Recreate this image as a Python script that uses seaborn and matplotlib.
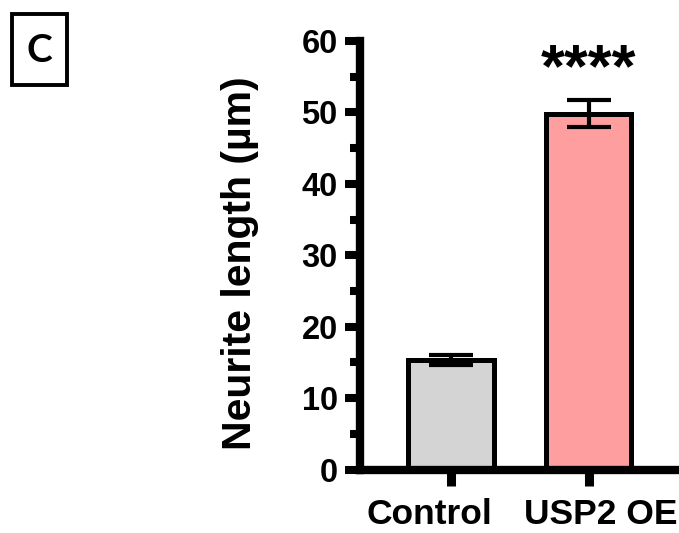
import pandas as pd
import matplotlib.pyplot as plt
import matplotlib.transforms as mtransforms
import seaborn as sns
from matplotlib.patches import Rectangle
from matplotlib.ticker import MultipleLocator

# values
groups = ["Control", "USP2 OE"]
means = [15.35, 49.8]
sems = [0.65, 1.9]
colors = ["#D4D4D4", "#FF9E9E"]
yticks = [0, 10, 20, 30, 40, 50, 60]
stars = "****"


def main():
    sns.set_style("white")
    plt.rcParams['font.family'] = ['Liberation Sans', 'DejaVu Sans']
    plt.rcParams['text.color'] = 'black'
    plt.rcParams['axes.labelcolor'] = 'black'
    plt.rcParams['xtick.color'] = 'black'
    plt.rcParams['ytick.color'] = 'black'

    df = pd.DataFrame({"group": groups, "mean": means, "sem": sems})

    fig = plt.figure(figsize=(6.79, 5.33), dpi=100)
    ax = fig.add_axes([360 / 679, 1 - 469.5 / 533, 319 / 679, (469.5 - 41) / 533])

    sns.barplot(data=df, x="group", y="mean", hue="group", palette=colors,
                saturation=1, errorbar=None, width=0.623, edgecolor="black",
                linewidth=3.6, legend=False, ax=ax, zorder=2)
    ax.errorbar(range(len(groups)), df["mean"], yerr=df["sem"], fmt="none",
                ecolor="black", elinewidth=3, capsize=16, capthick=3, zorder=5)

    ax.set_xlim(-0.663, 1.657)
    ax.set_ylim(0, 60)
    ax.set_yticks(yticks)
    ax.yaxis.set_minor_locator(MultipleLocator(5))

    for side in ["top", "right"]:
        ax.spines[side].set_visible(False)
    for side in ["left", "bottom"]:
        ax.spines[side].set_linewidth(6)
        ax.spines[side].set_color("black")

    ax.tick_params(axis="y", which="major", length=11, width=5.8, pad=5,
                   labelsize=23.5, left=True, direction="out")
    ax.tick_params(axis="y", which="minor", length=7, width=5.8, left=True,
                   direction="out")
    ax.tick_params(axis="x", which="major", length=11.5, width=6.5, pad=9,
                   labelsize=25.5, bottom=True, direction="out")
    for lab in ax.get_xticklabels() + ax.get_yticklabels():
        lab.set_fontweight("bold")

    # the category labels sit a bit apart from their ticks in the original
    shifts = [-22, 12]
    for lab, dx in zip(ax.get_xticklabels(), shifts):
        lab.set_transform(lab.get_transform()
                          + mtransforms.ScaledTranslation(dx / 100, 0, fig.dpi_scale_trans))

    ax.set_xlabel("")
    ax.set_ylabel("Neurite length (µm)", fontsize=29.5, fontweight="bold")
    ax.yaxis.set_label_coords((259 - 360) / 319, (469.5 - 263.5) / 428.5)

    # significance stars above the USP2 bar
    ax.text(1, 55.9, stars, ha="center", va="center", fontsize=44,
            fontweight="bold")

    # panel letter in a box
    fig.patches.append(Rectangle((12 / 679, 1 - 85 / 533), 55 / 679, 71 / 533,
                                 transform=fig.transFigure, fill=False,
                                 edgecolor="black", linewidth=2.8))
    fig.text(39 / 679, 1 - 51 / 533, "C", ha="center", va="center",
             fontsize=28, fontweight="bold", family=["Lato", "DejaVu Sans"])

    fig.savefig("out.png", dpi=100)


if __name__ == "__main__":
    main()
